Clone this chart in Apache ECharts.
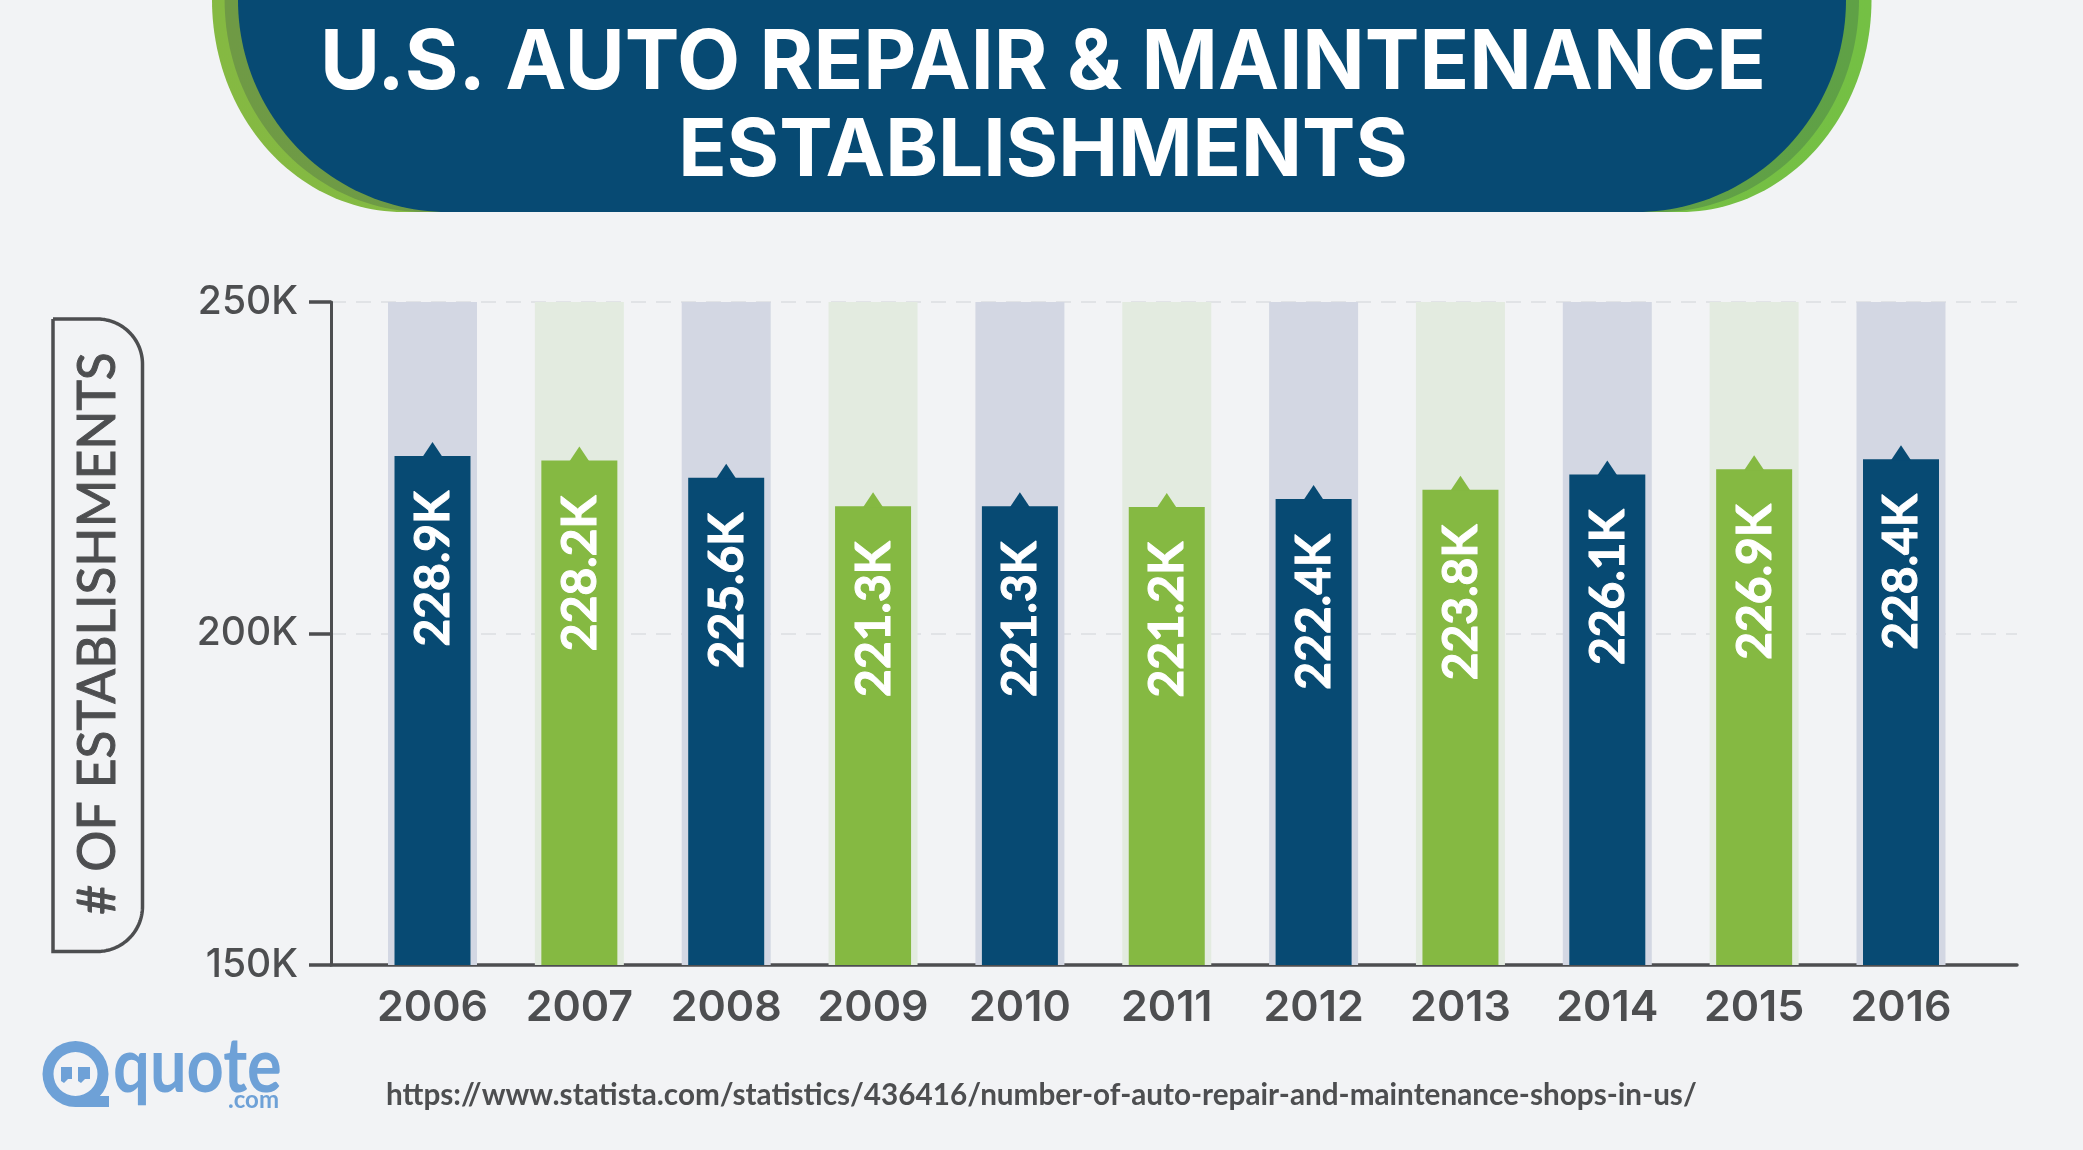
<!DOCTYPE html>
<html><head><meta charset="utf-8">
<style>html,body{margin:0;padding:0;background:#f2f3f5}#c{width:2083px;height:1150px}</style>
<script src="https://cdn.jsdelivr.net/npm/echarts@6/dist/echarts.min.js"></script>
</head><body><div id="c"></div>
<script>
const categories = ['2006','2007','2008','2009','2010','2011','2012','2013','2014','2015','2016'];
const establishments = [228900,228200,225600,221300,221300,221200,222400,223800,226100,226900,228400];
const ceiling = [250000,250000,250000,250000,250000,250000,250000,250000,250000,250000,250000];
const titleLines = ['U.S. AUTO REPAIR & MAINTENANCE','ESTABLISHMENTS'];
const yName = '# OF ESTABLISHMENTS';
const sourceUrl = 'https://www.statista.com/statistics/436416/number-of-auto-repair-and-maintenance-shops-in-us/';
const yMin = 150000, yMax = 250000, yStep = 50000;

const NAVY='#074a73', GREEN='#85b942', PALE_B='#d3d7e3', PALE_G='#e3ebe0', INK='#4d4e50', LOGO='#6ea1d7';
const chart = echarts.init(document.getElementById('c'), null, {renderer:'canvas'});
const FONT='Lato';

function arc(cx,cy,rx,ry,a0,a1){
  const out=[], n=48;
  for(let k=0;k<=n;k++){const a=(a0+(a1-a0)*k/n)*Math.PI/180; out.push([cx+rx*Math.cos(a),cy+ry*Math.sin(a)]);}
  return out;
}
function hgrad(a,b){return {type:'linear',x:0,y:0,x2:1,y2:0,colorStops:[{offset:0,color:a},{offset:1,color:b}]};}
function banner(l, r, rx, ry, fill, z){
  const b=212;
  return {type:'polygon', z:z, silent:true,
    shape:{points:[[l,-2]].concat(arc(l+rx,b-ry,rx,ry,180,90),arc(r-rx,b-ry,rx,ry,90,0),[[r,-2]])},
    style:{fill:fill}};
}

chart.setOption({
  backgroundColor:'#f2f3f5',
  animation:false,
  title:{
    text:'{a|'+titleLines[0]+'}\n{b|'+titleLines[1]+'}', left:1038, top:15, textAlign:'center',
    textStyle:{color:'#fff', fontFamily:'Inter', fontWeight:'bold', fontSize:82, lineHeight:88,
      rich:{a:{color:'#fff',fontFamily:'Inter',fontWeight:'bold',fontSize:82,lineHeight:88,align:'center'},
            b:{color:'#fff',fontFamily:'Inter',fontWeight:'bold',fontSize:80,lineHeight:88,align:'center'}}}
  },
  grid:[
    {left:359.08, width:1615.35, top:302, bottom:185},
    {left:331, width:1686, top:302, bottom:185}
  ],
  xAxis:[
    {type:'category', gridIndex:0, data:categories, axisTick:{show:false}, axisLine:{show:false},
     axisLabel:{color:INK, fontFamily:'Inter', fontWeight:600, fontSize:43, margin:22, interval:0}},
    {type:'category', gridIndex:1, data:[], axisTick:{show:false}, axisLabel:{show:false},
     axisLine:{lineStyle:{color:INK, width:3.5}}}
  ],
  yAxis:[
    {type:'value', gridIndex:0, min:yMin, max:yMax, interval:yStep, show:false},
    {type:'value', gridIndex:1, min:yMin, max:yMax, interval:yStep,
     name:yName, nameLocation:'middle', nameGap:207, nameRotate:90,
     nameTextStyle:{color:INK, fontFamily:FONT, fontWeight:'normal', fontSize:51.5, textBorderColor:INK, textBorderWidth:1},
     axisLine:{show:true, lineStyle:{color:INK, width:3}},
     axisTick:{show:true, length:22, lineStyle:{color:INK, width:3.5}},
     axisLabel:{color:INK, fontFamily:'Inter', fontWeight:500, fontSize:39, margin:33, formatter:v=>(v/1000)+'K'},
     splitLine:{show:true, lineStyle:{color:'#e1e3e6', width:2, type:[15,10]}}}
  ],
  series:[
    {type:'bar', xAxisIndex:0, yAxisIndex:0, barWidth:89, silent:true, z:2,
     data:ceiling.map((v,i)=>({value:v, itemStyle:{color:i%2?PALE_G:PALE_B}}))},
    {type:'custom', xAxisIndex:0, yAxisIndex:0, z:3,
     encode:{x:0,y:1},
     data:establishments.map((v,i)=>[i,v]),
     renderItem:function(params,api){
       const i=api.value(0), tip=api.coord([i,api.value(1)]), base=api.coord([i,yMin]);
       const col=i%2?GREEN:NAVY, w=76, cap=14, hw=10;
       const topY=tip[1]+cap;
       return {type:'group',children:[
         {type:'rect', shape:{x:tip[0]-w/2,y:topY,width:w,height:base[1]-topY}, style:{fill:col}},
         {type:'polygon', shape:{points:[[tip[0]-hw,topY+1],[tip[0],tip[1]],[tip[0]+hw,topY+1]]}, style:{fill:col}},
         {type:'text', x:tip[0]+1, y:tip[1]+49, rotation:Math.PI/2,
          style:{text:(api.value(1)/1000).toFixed(1)+'K', fill:'#fff', align:'right', verticalAlign:'middle',
                 fontFamily:FONT, fontWeight:'bold', fontSize:48, stroke:'#fff', lineWidth:1}}
       ]};
     }}
  ],
  graphic:[
    banner(212,1871.5,191,212,hgrad('#85b942','#74c044'),-5),
    banner(224.6,1859,200,212,hgrad('#6f9a45','#5fa146'),-4),
    banner(238,1846,210,212,NAVY,-3),
    {type:'polyline', silent:true,
     shape:{points:[[53,319]].concat(arc(97,364,45.5,45,-90,0),arc(97,906.5,45.5,45,0,90),[[53,951.5],[53,319]])},
     style:{fill:'none', stroke:INK, lineWidth:3.5}},
    {type:'text', silent:true, x:386, y:1080, style:{text:sourceUrl, fill:INK, fontFamily:FONT, fontWeight:'bold', fontSize:29.7}},
    {type:'ring', silent:true, shape:{cx:75.5,cy:1074,r:33,r0:22}, style:{fill:LOGO}},
    {type:'rect', silent:true, shape:{x:75,y:1096,width:34,height:11}, style:{fill:LOGO}},
    {type:'polygon', silent:true, shape:{points:[[61,1067],[72,1067],[72,1079],[68,1079],[64,1083],[61,1081]]}, style:{fill:LOGO}},
    {type:'polygon', silent:true, shape:{points:[[78,1067],[90,1067],[90,1079],[85,1079],[81,1083],[78,1081]]}, style:{fill:LOGO}},
    {type:'text', silent:true, x:113, y:1029, scaleX:0.855, style:{text:'quote', fill:LOGO, fontFamily:FONT, fontWeight:'bold', fontSize:76, letterSpacing:-3}},
    {type:'text', silent:true, x:279, y:1088, style:{text:'.com', fill:LOGO, fontFamily:FONT, fontWeight:'bold', fontSize:24, align:'right'}}
  ]
});
</script></body></html>
